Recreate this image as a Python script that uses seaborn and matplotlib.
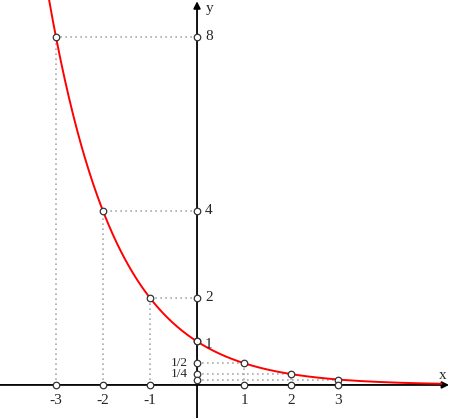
import numpy as np
import pandas as pd
import matplotlib.pyplot as plt
import seaborn as sns

# y = (1/2)^x
base = 0.5
x_pts = [-3, -2, -1, 0, 1, 2, 3]
y_pts = [8, 4, 2, 1, 0.5, 0.25, 0.125]
x_tick_vals = [-3, -2, -1, 1, 2, 3]
x_tick_labels = ["-3", "-2", "-1", "1", "2", "3"]
y_right_vals = [8, 4, 2, 1]
y_right_labels = ["8", "4", "2", "1"]
y_left_vals = [0.5, 0.25]
y_left_labels = ["1/2", "1/4"]
curve_range = (-3.3, 5.2)

sns.set_style("white")
plt.rcParams['font.family'] = ['Liberation Serif', 'DejaVu Serif']

fig = plt.figure(figsize=(4.5, 4.18), dpi=100)
ax = fig.add_axes([0, 0, 1, 1])
ax.set_xlim(-4.19, 5.38)
ax.set_ylim(-0.76, 8.85)
ax.axis("off")

# dotted guides
for x, y in zip(x_pts, y_pts):
    if x == 0:
        continue
    ax.plot([x, x], [0, y], color="#aaaaaa", lw=1.2, ls=(0, (1, 2)), zorder=1)
    ax.plot([0, x], [y, y], color="#aaaaaa", lw=1.2, ls=(0, (1, 2)), zorder=1)

# axes with arrows
ax.annotate("", xy=(5.36, 0), xytext=(-4.3, 0),
            arrowprops=dict(arrowstyle="-|>", color="black", lw=1.3,
                            mutation_scale=10, shrinkA=0, shrinkB=0), zorder=2)
ax.annotate("", xy=(0, 8.82), xytext=(0, -0.8),
            arrowprops=dict(arrowstyle="-|>", color="black", lw=1.3,
                            mutation_scale=10, shrinkA=0, shrinkB=0), zorder=2)

# curve
xs = np.linspace(curve_range[0], curve_range[1], 400)
curve = pd.DataFrame({"x": xs, "y": base ** xs})
sns.lineplot(data=curve, x="x", y="y", color="red", lw=1.4, ax=ax, zorder=3)

# points on curve and their projections
pts = pd.DataFrame({"x": x_pts, "y": y_pts})
proj_x = pd.DataFrame({"x": [x for x in x_pts if x != 0], "y": 0})
proj_y = pd.DataFrame({"x": 0, "y": y_pts})
for d in (pts, proj_x, proj_y):
    sns.scatterplot(data=d, x="x", y="y", s=22, color="white",
                    edgecolor="#333333", linewidth=0.9, ax=ax, zorder=4)

# labels
for v, t in zip(x_tick_vals, x_tick_labels):
    ax.text(v, -0.2, t, ha="center", va="top", fontsize=11)
for v, t in zip(y_right_vals, y_right_labels):
    ax.text(0.17, v if v != 1 else 0.94, t, ha="left", va="center",
            fontsize=11)
for v, t in zip(y_left_vals, y_left_labels):
    ax.text(-0.2, v, t, ha="right", va="center", fontsize=9.5)
ax.text(0.27, 8.65, "y", ha="center", va="center", fontsize=11)
ax.text(5.22, 0.22, "x", ha="center", va="center", fontsize=11)

fig.savefig("out.png", dpi=100)
